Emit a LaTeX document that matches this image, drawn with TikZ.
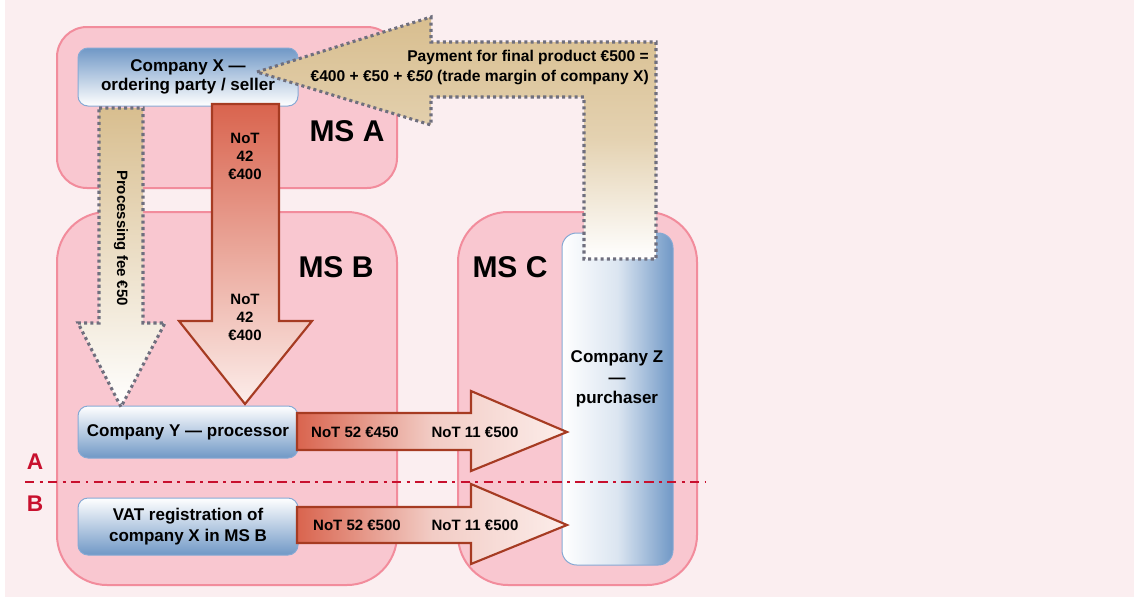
\documentclass[tikz,border=0pt]{standalone}
\usepackage{fontspec}
\setmainfont{Liberation Sans}
\usetikzlibrary{positioning, calc}
\definecolor{bgPink}  {HTML}{FBEEF0}
\definecolor{msFill}  {HTML}{F9C7D0}
\definecolor{msLine}  {HTML}{F28C9C}
\definecolor{coBlue}  {HTML}{7098C6}
\definecolor{coLine}  {HTML}{86A9D4}
\definecolor{notRed}  {HTML}{D9644E}
\definecolor{notMid}  {HTML}{F2CCC5}
\definecolor{notLight}{HTML}{FCEDEA}
\definecolor{notLine} {HTML}{A63B22}
\definecolor{payTan}  {HTML}{D8BE8F}
\definecolor{dotGrey} {HTML}{6F6F7E}
\definecolor{lineRed} {HTML}{C8102E}
\newcommand\fntBox{\fontsize{12.75}{14.5}\selectfont\bfseries}
\newcommand\fntLbl{\fontsize{11.25}{13.5}\selectfont\bfseries}
\newcommand\fntMS{\fontsize{22.5}{24}\selectfont\bfseries}

\begin{document}
\begin{tikzpicture}[x=0.75pt, y=-0.75pt,
  msbox/.style={draw=msLine, fill=msFill, line width=1.5pt, inner sep=0pt},
  cobox/.style={draw=coLine, line width=0.75pt, rounded corners=7.5pt,
                font=\fntBox, align=center, inner sep=0pt},
  redarrow/.style={draw=notLine, line width=1.6pt},
  dotarrow/.style={draw=dotGrey, line width=2.3pt, dash pattern=on 2.3pt off 2.4pt},
  lbl/.style={font=\fntLbl, align=center, inner sep=0pt},
  mslbl/.style={font=\fntMS, inner sep=0pt},
]
  % page and background
  \useasboundingbox (0,0) rectangle (1134,603);
  \fill[white] (0,0) rectangle (1134,603);
  \fill[bgPink] (5,0) rectangle (1134,597);

  % member states
  \node[msbox, rounded corners=22.5pt, minimum width=255pt, minimum height=120.75pt] (msa) at (227,107.5) {};
  \node[msbox, rounded corners=37.5pt, minimum width=255pt, minimum height=279.75pt] (msb) at (227,398.5) {};
  \node[msbox, rounded corners=37.5pt, minimum width=179.25pt, minimum height=279.75pt] (msc) at (577.5,398.5) {};
  \node[mslbl] (msaLbl) at (347,131) {MS A};
  \node[mslbl] (msbLbl) at (336,267) {MS B};
  \node[mslbl] (mscLbl) at (510,267) {MS C};

  % companies
  \node[cobox, top color=coBlue, bottom color=white, minimum width=165pt, minimum height=43.5pt,
        font={\fontsize{12.75}{14.25}\selectfont\bfseries}] (cox) at (188,77) {Company X —\\ordering party / seller};
  \node[cobox, top color=white, bottom color=coBlue, minimum width=165pt, minimum height=39pt] (coy) at (188,432) {Company Y — processor};
  \node[cobox, top color=white, bottom color=coBlue, minimum width=165pt, minimum height=42.75pt,
        font={\fontsize{12.75}{15.5}\selectfont\bfseries}] (vat) at (188,526.5) {VAT registration of\\company X in MS B};
  \node[cobox, rounded corners=11pt, left color=white, right color=coBlue, middle color=coBlue!25,
        minimum width=83.25pt, minimum height=249pt] (coz) at (617.5,399) {};
  \node[font={\fontsize{12.75}{15.4}\selectfont\bfseries}, align=center, inner sep=0pt] (cozLbl) at (617,379) {Company Z\\—\\purchaser};

  % processing fee
  \draw[dotarrow, top color=payTan, bottom color=white]
    (99,108) -- (143,108) -- (143,323) -- (165,323) -- (121,407) -- (78,323) -- (99,323) -- cycle;
  \node[lbl, rotate=-90] (feeLbl) at (121,238) {Processing fee €50};

  % goods X to Y
  \draw[redarrow, top color=notRed, bottom color=notLight]
    (212,104) -- (279,104) -- (279,321) -- (312,321) -- (245,404) -- (179,321) -- (212,321) -- cycle;
  \node[lbl] (notTop) at (245,156) {NoT\\42\\€400};
  \node[lbl] (notBot) at (245,317) {NoT\\42\\€400};

  % supplies to Z
  \draw[redarrow, left color=notRed, right color=notLight, middle color=notMid]
    (297,413) -- (471,413) -- (471,391) -- (567,432) -- (471,471) -- (471,450) -- (297,450) -- cycle;
  \draw[redarrow, left color=notRed, right color=notLight, middle color=notMid]
    (297,507) -- (471,507) -- (471,484) -- (567,525) -- (471,564) -- (471,543) -- (297,543) -- cycle;
  \node[lbl] (yNot52) at (355,432) {NoT 52 €450};
  \node[lbl] (yNot11) at (475,432) {NoT 11 €500};
  \node[lbl] (bNot52) at (357,525) {NoT 52 €500};
  \node[lbl] (bNot11) at (475,525) {NoT 11 €500};

  % payment from Z
  \draw[dotarrow, top color=payTan, bottom color=white, middle color=payTan!70]
    (257,72) -- (431,17) -- (431,42) -- (656,42) -- (656,259) -- (584,259) -- (584,97)
    -- (431,97) -- (431,125) -- cycle;
  \node[lbl, align=right, anchor=east, font={\fontsize{11.7}{14.25}\selectfont\bfseries}] (payLbl) at (649,67.5)
    {Payment for final product €500 =\\€400 + €50 + €\textit{50} (trade margin of company X)};

  % variants A / B
  \coordinate (sepL) at (25,482);
  \coordinate (sepR) at (705,482);
  \draw[lineRed, line width=2pt, dash pattern=on 7pt off 4pt on 2.2pt off 4pt] (sepL) -- (sepR);
  \node[font=\fontsize{17}{18}\selectfont\bfseries, text=lineRed, inner sep=0pt] (varA) at (35,462) {A};
  \node[font=\fontsize{17}{18}\selectfont\bfseries, text=lineRed, inner sep=0pt] (varB) at (35,504) {B};
\end{tikzpicture}
\end{document}
